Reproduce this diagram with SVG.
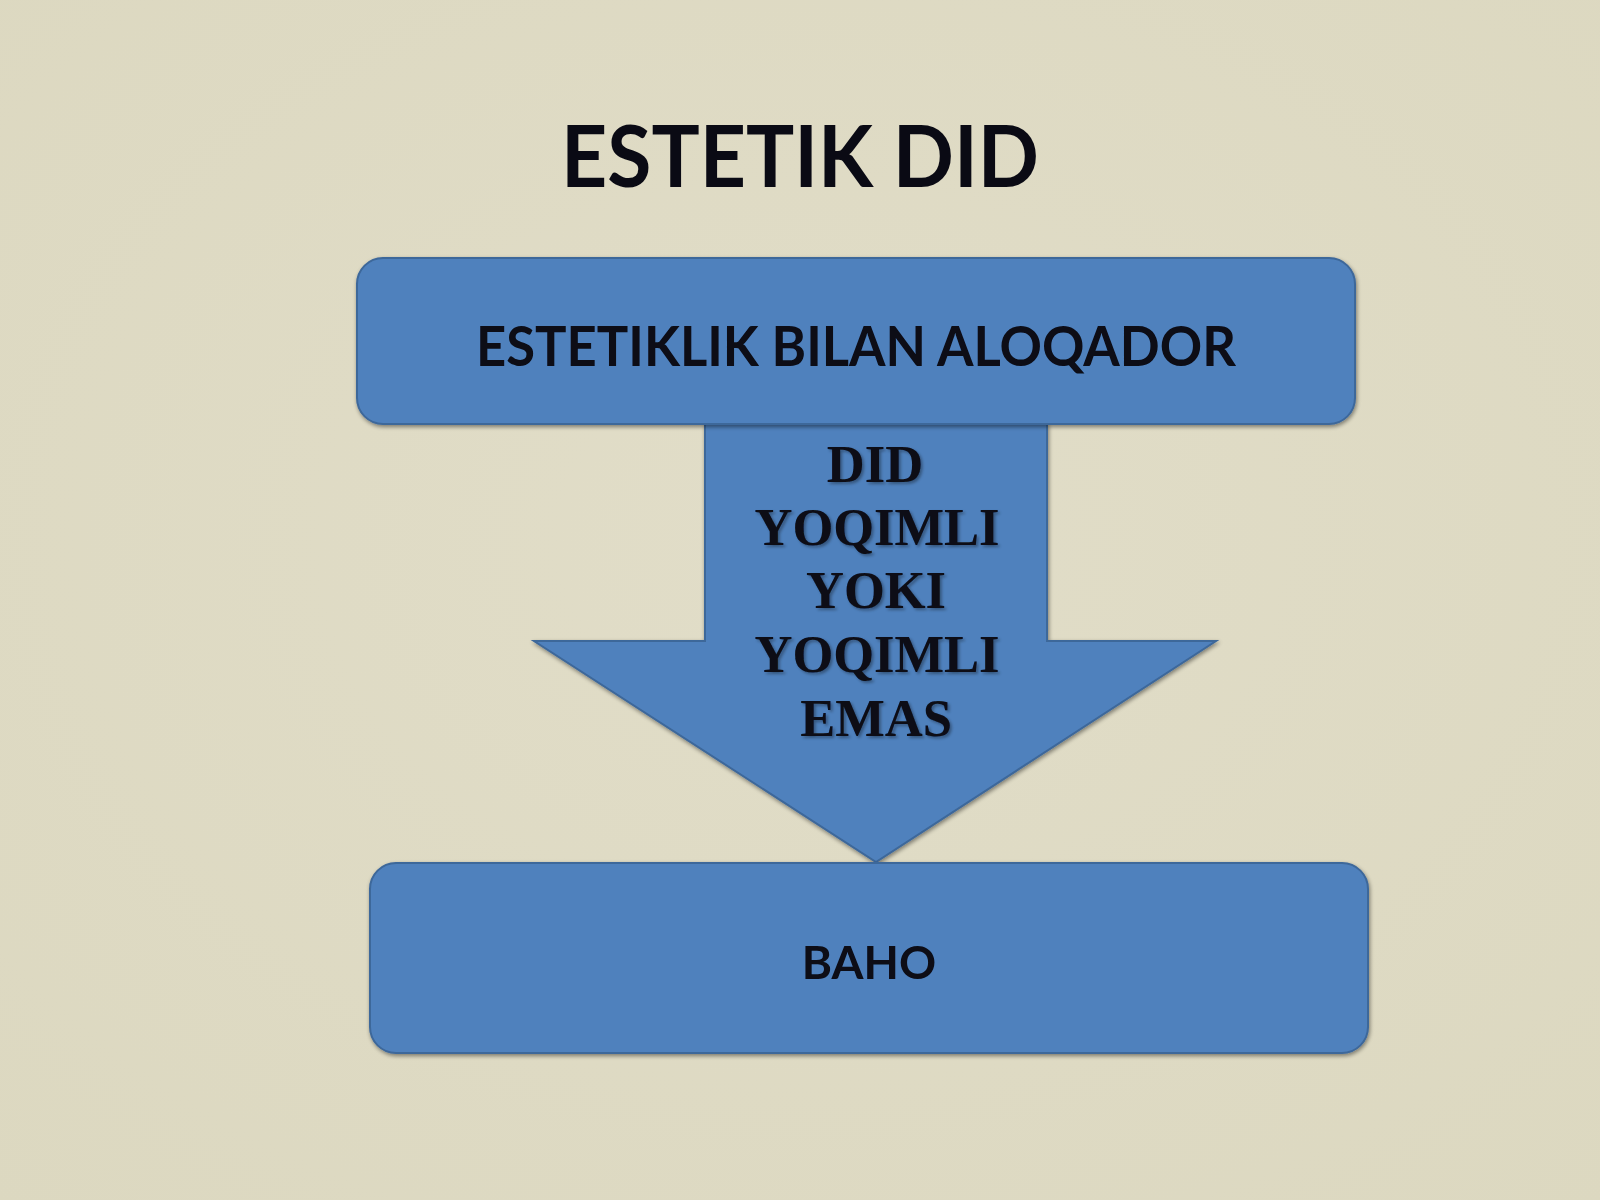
<svg xmlns="http://www.w3.org/2000/svg" width="1600" height="1200" viewBox="0 0 1600 1200">
  <defs>
    <radialGradient id="bg" cx="50%" cy="45%" r="75%">
      <stop offset="0" stop-color="#e1ddc8"/>
      <stop offset="1" stop-color="#dcd8c0"/>
    </radialGradient>
    <filter id="shadow" x="-5%" y="-5%" width="110%" height="115%">
      <feGaussianBlur in="SourceAlpha" stdDeviation="2"/>
      <feOffset dx="1" dy="2" result="b"/>
      <feComponentTransfer><feFuncA type="linear" slope="0.45"/></feComponentTransfer>
      <feMerge><feMergeNode/><feMergeNode in="SourceGraphic"/></feMerge>
    </filter>
    <filter id="tshadow" x="-10%" y="-20%" width="120%" height="140%">
      <feGaussianBlur in="SourceAlpha" stdDeviation="1.5"/>
      <feOffset dx="2" dy="2"/>
      <feComponentTransfer><feFuncA type="linear" slope="0.35"/></feComponentTransfer>
      <feMerge><feMergeNode/><feMergeNode in="SourceGraphic"/></feMerge>
    </filter>
  </defs>
  <style>
    .box { fill: #4f81bd; stroke: #3d679a; stroke-width: 2; }
    .sans { font-family: Lato, "Open Sans", "Liberation Sans", sans-serif; font-weight: bold; fill: #0a0a14; text-anchor: middle; }
    .serif { font-family: "Liberation Serif", "DejaVu Serif", serif; font-weight: bold; fill: #0a0a14; text-anchor: middle; font-size: 52.5px; }
  </style>
  <rect x="0" y="0" width="1600" height="1200" fill="url(#bg)"/>

  <g id="title">
    <text class="sans" x="800" y="187" font-size="86" textLength="478" lengthAdjust="spacingAndGlyphs">ESTETIK DID</text>
  </g>

  <g id="connectors">
    <g id="arrow" filter="url(#shadow)">
      <path class="box" d="M705,424 L1047,424 L1047,641 L1216,641 L876,862 L534,641 L705,641 Z"/>
      <text class="serif" filter="url(#tshadow)" x="875" y="482">DID</text>
      <text class="serif" filter="url(#tshadow)" x="877" y="545">YOQIMLI</text>
      <text class="serif" filter="url(#tshadow)" x="876" y="608">YOKI</text>
      <text class="serif" filter="url(#tshadow)" x="877" y="672">YOQIMLI</text>
      <text class="serif" filter="url(#tshadow)" x="876" y="736">EMAS</text>
    </g>
  </g>

  <g id="node-top" filter="url(#shadow)">
    <rect class="box" x="357" y="258" width="998" height="166" rx="26" ry="26"/>
    <text class="sans" x="856" y="366" font-size="55" textLength="760" lengthAdjust="spacingAndGlyphs">ESTETIKLIK BILAN ALOQADOR</text>
  </g>

  <g id="node-bottom" filter="url(#shadow)">
    <rect class="box" x="370" y="863" width="998" height="190" rx="26" ry="26"/>
    <text class="sans" x="869" y="979" font-size="46">BAHO</text>
  </g>
</svg>
